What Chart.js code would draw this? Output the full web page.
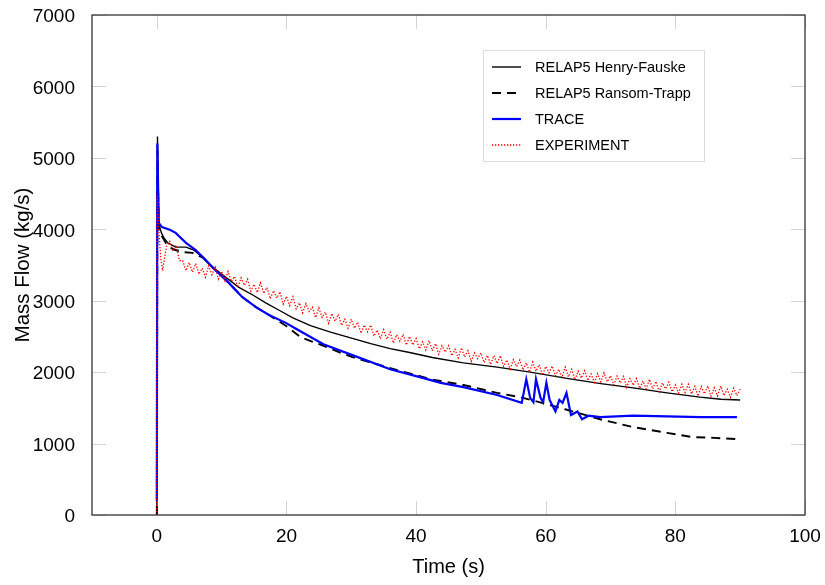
<!DOCTYPE html>
<html>
<head>
<meta charset="utf-8">
<script src="https://cdn.jsdelivr.net/npm/chart.js@4.4.1/dist/chart.umd.min.js"></script>
<style>
  html, body { margin: 0; padding: 0; background: #fff; }
  canvas { display: block; }
</style>
</head>
<body>
<canvas id="c" width="825" height="585"></canvas>
<script>
// ---- Data ----
const seriesLabels = ['RELAP5 Henry-Fauske', 'RELAP5 Ransom-Trapp', 'TRACE', 'EXPERIMENT'];
const xTicks = [0, 20, 40, 60, 80, 100];
const yTicks = [0, 1000, 2000, 3000, 4000, 5000, 6000, 7000];

const hfTime = [0, 0.1, 0.3, 0.7, 1.1, 1.7, 2.9, 4.5, 5.7, 7, 8.6, 10.6, 12.6, 14.8, 16.8, 18.8, 21, 23.7, 26.8, 29.9, 33, 36, 39, 42.5, 47.3, 52.5, 57.6, 63.5, 68.5, 73.5, 78.7, 83.8, 87, 90];
const hfFlow = [0, 5300, 4080, 3950, 3880, 3810, 3750, 3750, 3710, 3610, 3470, 3330, 3190, 3080, 2970, 2870, 2760, 2650, 2560, 2480, 2400, 2330, 2275, 2205, 2130, 2070, 2000, 1910, 1840, 1780, 1710, 1650, 1620, 1610];

const rtTime = [0, 0.1, 0.3, 0.8, 1.5, 2.5, 4, 5.5, 7.2, 9, 11, 13.2, 15.3, 17.3, 19.9, 22.2, 24.5, 26.3, 28.4, 30.2, 34, 37, 40, 42.2, 47.3, 52.5, 56, 59, 63, 68.4, 73.5, 78.7, 82.7, 86, 90];
const rtFlow = [0, 5100, 4000, 3900, 3790, 3720, 3680, 3670, 3600, 3430, 3260, 3050, 2910, 2800, 2650, 2490, 2410, 2350, 2270, 2210, 2110, 2030, 1960, 1900, 1820, 1710, 1650, 1580, 1480, 1340, 1230, 1150, 1090, 1080, 1060];

const trTime = [0, 0.08, 0.3, 0.8, 2.1, 2.9, 4.5, 6, 7.2, 9, 11, 13.2, 15.3, 17.3, 19.9, 21.4, 25.7, 31, 36, 41, 43.8, 47.3, 52.5, 56.3, 57, 57.6, 58.1, 58.5, 59.2, 59.6, 60.1, 60.6, 61.5, 62.1, 62.6, 63.2, 63.9, 64.9, 65.6, 66.6, 68.4, 73.5, 78.7, 83.8, 89.5];
const trFlow = [200, 5200, 4090, 4030, 3990, 3950, 3810, 3710, 3600, 3430, 3260, 3050, 2910, 2800, 2690, 2610, 2390, 2210, 2040, 1920, 1850, 1790, 1680, 1570, 1900, 1640, 1580, 1900, 1640, 1580, 1850, 1610, 1450, 1610, 1570, 1710, 1400, 1450, 1340, 1390, 1370, 1390, 1380, 1370, 1370];

const expTime = [0, 0.05, 0.3, 0.6, 0.9, 1.2, 1.5, 2.0, 2.5, 3.0, 3.5,
  4.0, 4.5, 5.0, 5.5, 6.0, 6.5, 7.0, 7.5, 8.0, 8.5, 9.0, 9.5, 10.0, 10.5, 11.0, 11.5, 12.0, 12.5, 13.0, 13.5,
  14.0, 14.5, 15.0, 15.5, 16.0, 16.5, 17.0, 17.5, 18.0, 18.5, 19.0, 19.5, 20.0, 20.5, 21.0, 21.5, 22.0, 22.5, 23.0, 23.5,
  24.0, 24.5, 25.0, 25.5, 26.0, 26.5, 27.0, 27.5, 28.0, 28.5, 29.0, 29.5, 30.0, 30.5, 31.0, 31.5, 32.0, 32.5, 33.0, 33.5,
  34.0, 34.5, 35.0, 35.5, 36.0, 36.5, 37.0, 37.5, 38.0, 38.5, 39.0, 39.5, 40.0, 40.5, 41.0, 41.5, 42.0, 42.5, 43.0, 43.5,
  44.0, 44.5, 45.0, 45.5, 46.0, 46.5, 47.0, 47.5, 48.0, 48.5, 49.0, 49.5, 50.0, 50.5, 51.0, 51.5, 52.0, 52.5, 53.0, 53.5,
  54.0, 54.5, 55.0, 55.5, 56.0, 56.5, 57.0, 57.5, 58.0, 58.5, 59.0, 59.5, 60.0, 60.5, 61.0, 61.5, 62.0, 62.5, 63.0, 63.5,
  64.0, 64.5, 65.0, 65.5, 66.0, 66.5, 67.0, 67.5, 68.0, 68.5, 69.0, 69.5, 70.0, 70.5, 71.0, 71.5, 72.0, 72.5, 73.0, 73.5,
  74.0, 74.5, 75.0, 75.5, 76.0, 76.5, 77.0, 77.5, 78.0, 78.5, 79.0, 79.5, 80.0, 80.5, 81.0, 81.5, 82.0, 82.5, 83.0, 83.5,
  84.0, 84.5, 85.0, 85.5, 86.0, 86.5, 87.0, 87.5, 88.0, 88.5, 89.0, 89.5, 90.0];
const expFlow = [0, 4480, 4000, 3600, 3420, 3600, 3760, 3830, 3700, 3780, 3560,
  3560, 3420, 3535, 3400, 3520, 3370, 3455, 3330, 3490, 3365, 3470, 3305, 3410, 3280, 3410, 3270, 3340, 3185, 3320, 3215,
  3300, 3135, 3230, 3115, 3250, 3102, 3185, 3027, 3140, 3037, 3125, 2952, 3060, 2932, 3055, 2887, 2970, 2830, 2960, 2850,
  2910, 2765, 2900, 2765, 2840, 2685, 2820, 2715, 2810, 2655, 2740, 2615, 2740, 2615, 2700, 2545, 2660, 2565, 2660, 2505,
  2590, 2467, 2595, 2462, 2560, 2407, 2525, 2432, 2530, 2380, 2500, 2380, 2470, 2327, 2425, 2312, 2440, 2300, 2400, 2250,
  2370, 2280, 2370, 2230, 2320, 2200, 2340, 2210, 2300, 2150, 2270, 2190, 2270, 2132, 2235, 2107, 2230, 2120, 2230, 2080,
  2170, 2042, 2175, 2077, 2170, 2030, 2130, 2000, 2140, 2012, 2105, 1957, 2080, 1992, 2085, 1947, 2040, 1925, 2070, 1935,
  2040, 1892, 2015, 1917, 2020, 1882, 1975, 1857, 1980, 1865, 1990, 1865, 1950, 1822, 1945, 1847, 1940, 1785, 1910, 1815,
  1910, 1772, 1875, 1767, 1900, 1765, 1870, 1725, 1850, 1765, 1860, 1725, 1820, 1705, 1830, 1715, 1830, 1695, 1800, 1665,
  1800, 1697, 1805, 1662, 1780, 1667, 1805, 1672, 1760, 1647, 1775, 1672, 1760];

const toPts = (xs, ys) => xs.map((x, i) => ({ x: x, y: ys[i] }));

const FONT = "'Liberation Sans', Arial, Helvetica, sans-serif";

// Inward tick marks + frame, drawn with the chart's own scales
const framePlugin = {
  id: 'frame',
  beforeDatasetsDraw(chart) {
    const { ctx, chartArea: a, scales } = chart;
    const len = 14;
    ctx.save();
    ctx.strokeStyle = '#d4d4d4';
    ctx.lineWidth = 1;
    ctx.beginPath();
    xTicks.forEach(v => {
      const px = Math.round(scales.x.getPixelForValue(v)) + 0.5;
      ctx.moveTo(px, a.bottom); ctx.lineTo(px, a.bottom - len);
      ctx.moveTo(px, a.top); ctx.lineTo(px, a.top + len);
    });
    yTicks.forEach(v => {
      const py = Math.round(scales.y.getPixelForValue(v)) + 0.5;
      ctx.moveTo(a.left, py); ctx.lineTo(a.left + len, py);
      ctx.moveTo(a.right, py); ctx.lineTo(a.right - len, py);
    });
    ctx.stroke();
    ctx.restore();
  },
  afterDatasetsDraw(chart) {
    const { ctx, chartArea: a } = chart;
    ctx.save();
    ctx.strokeStyle = '#333';
    ctx.lineWidth = 1.3;
    ctx.strokeRect(a.left, a.top, a.right - a.left, a.bottom - a.top);
    ctx.restore();
  }
};

// Legend box inside the plot area
const legendPlugin = {
  id: 'insideLegend',
  afterDraw(chart) {
    const { ctx } = chart;
    const bx = 483.5, by = 50.5, bw = 221, bh = 111;
    ctx.save();
    ctx.fillStyle = '#fff';
    ctx.fillRect(bx, by, bw, bh);
    ctx.strokeStyle = '#dcdcdc';
    ctx.lineWidth = 1;
    ctx.strokeRect(bx, by, bw, bh);
    const rows = [67, 93, 119, 145];
    ctx.font = '14.5px ' + FONT;
    ctx.textBaseline = 'middle';
    ctx.textAlign = 'left';
    chart.data.datasets.forEach((ds, i) => {
      const y = rows[i];
      ctx.save();
      ctx.strokeStyle = ds.borderColor;
      ctx.lineWidth = ds.borderWidth;
      ctx.setLineDash(ds.borderDash || []);
      ctx.beginPath();
      ctx.moveTo(492, y); ctx.lineTo(521, y);
      ctx.stroke();
      ctx.restore();
      ctx.fillStyle = '#000';
      ctx.fillText(ds.label, 535, y + 1);
    });
    ctx.restore();
  }
};

new Chart(document.getElementById('c'), {
  type: 'line',
  data: {
    datasets: [
      { label: seriesLabels[0], data: toPts(hfTime, hfFlow), borderColor: '#000000', borderWidth: 1.4, order: 2 },
      { label: seriesLabels[1], data: toPts(rtTime, rtFlow), borderColor: '#000000', borderWidth: 1.9, borderDash: [9, 6], order: 3 },
      { label: seriesLabels[2], data: toPts(trTime, trFlow), borderColor: '#0000ff', borderWidth: 2.2, order: 1 },
      { label: seriesLabels[3], data: toPts(expTime, expFlow), borderColor: '#ff0000', borderWidth: 1.3, borderDash: [1.3, 1.7], order: 0 }
    ]
  },
  options: {
    responsive: false,
    devicePixelRatio: 1,
    animation: false,
    elements: { point: { radius: 0 }, line: { tension: 0, fill: false } },
    layout: { padding: { top: 15, right: 20, left: 0, bottom: 0 } },
    plugins: { legend: { display: false }, tooltip: { enabled: false } },
    scales: {
      x: {
        type: 'linear',
        min: -10, max: 100,
        afterBuildTicks(scale) { scale.ticks = xTicks.map(v => ({ value: v })); },
        afterFit(scale) { scale.height = 70; scale.paddingLeft = 0; scale.paddingRight = 0; },
        grid: { display: false },
        border: { display: false },
        ticks: { color: '#000', font: { family: FONT, size: 19 }, padding: 2, maxRotation: 0, autoSkip: false, callback: v => String(v) },
        title: { display: true, text: 'Time (s)', color: '#000', font: { family: FONT, size: 20 }, padding: { top: 0, bottom: 6 } }
      },
      y: {
        type: 'linear',
        min: 0, max: 7000,
        afterBuildTicks(scale) { scale.ticks = yTicks.map(v => ({ value: v })); },
        afterFit(scale) { scale.width = 92; scale.paddingTop = 0; scale.paddingBottom = 0; },
        grid: { display: false },
        border: { display: false },
        ticks: { color: '#000', font: { family: FONT, size: 19 }, padding: 9, labelOffset: 2, autoSkip: false, callback: v => String(v) },
        title: { display: true, text: 'Mass Flow (kg/s)', color: '#000', font: { family: FONT, size: 20.5 }, padding: { top: 11, bottom: 0 } }
      }
    }
  },
  plugins: [framePlugin, legendPlugin]
});
</script>
</body>
</html>
